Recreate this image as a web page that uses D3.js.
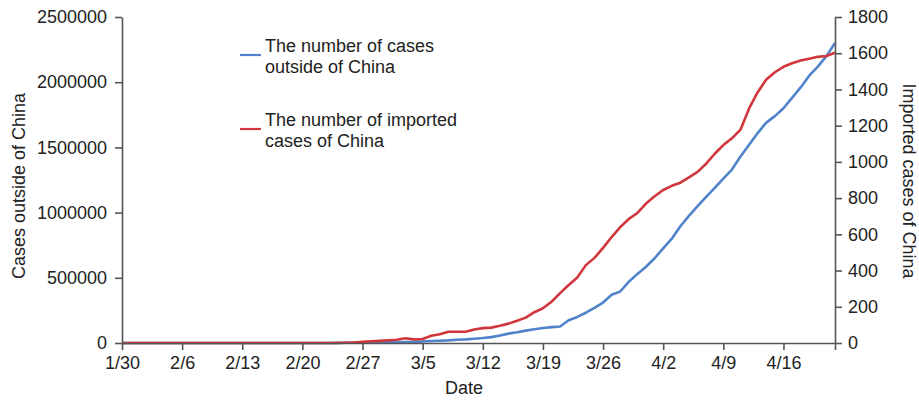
<!DOCTYPE html>
<html>
<head>
<meta charset="utf-8">
<script src="https://cdn.jsdelivr.net/npm/d3@7/dist/d3.min.js"></script>
<style>
  html, body { margin: 0; padding: 0; background: #fff; }
  svg text { font-family: "Liberation Sans", Arial, Helvetica, sans-serif; fill: #222; }
</style>
</head>
<body>
<svg id="chart" width="919" height="400"></svg>
<script>
// ---- data (day index 0 = 1/30, 83 = 4/22) ----
const days = d3.range(0, 84);
const tickDays = [0, 7, 14, 21, 28, 35, 42, 49, 56, 63, 70, 77, 83];
const tickLabels = ["1/30", "2/6", "2/13", "2/20", "2/27", "3/5", "3/12", "3/19", "3/26", "4/2", "4/9", "4/16", ""];
const leftTicks = [0, 500000, 1000000, 1500000, 2000000, 2500000];
const rightTicks = [0, 200, 400, 600, 800, 1000, 1200, 1400, 1600, 1800];

// cases outside of China (left axis)
const outsideCases = [
  0, 0, 0, 0, 0, 0, 0, 0, 0, 0,
  0, 0, 0, 0, 0, 0, 0, 0, 0, 0,
  0, 0, 0, 0, 0, 1000, 1500, 2000, 2500, 3000,
  4000, 5000, 6000, 7000, 9000, 12000, 15000, 17000, 20000, 25000,
  28000, 33000, 38000, 45000, 58000, 72000, 82000, 95000, 105000, 115000,
  122000, 127000, 175000, 200000, 232000, 270000, 310000, 370000, 395000, 470000,
  530000, 585000, 650000, 726000, 800000, 895000, 975000, 1050000, 1120000, 1190000,
  1260000, 1330000, 1430000, 1520000, 1610000, 1690000, 1740000, 1800000, 1880000, 1960000,
  2050000, 2120000, 2200000, 2300000
];
// imported cases of China (right axis)
const importedCases = [
  0, 0, 0, 0, 0, 0, 0, 0, 0, 0,
  0, 0, 0, 0, 0, 0, 0, 0, 0, 0,
  0, 0, 0, 0, 0, 0, 1, 3, 6, 10,
  12, 15, 18, 26, 20, 22, 40, 48, 62, 62,
  62, 75, 82, 85, 95, 107, 123, 140, 170, 192,
  228, 275, 320, 362, 430, 470, 525, 585, 640, 685,
  718, 770, 810, 845, 868, 885, 915, 945, 990, 1045,
  1093, 1130, 1178, 1295, 1385, 1455, 1495, 1525, 1545, 1560,
  1570, 1580, 1585, 1603
];

const legendItems = [
  { lines: ["The number of cases", "outside of China"], color: "#5183cb" },
  { lines: ["The number of imported", "cases of China"], color: "#d0363b" }
];

// ---- layout ----
const svg = d3.select("#chart");
const x0 = 122, x1 = 835, yTop = 17, yBot = 343;
const axisColor = "#555";

const x = d3.scaleLinear().domain([0, 83]).range([x0, x1]);
const yL = d3.scaleLinear().domain([0, 2500000]).range([yBot, yTop]);
const yR = d3.scaleLinear().domain([0, 1800]).range([yBot, yTop]);

function styleAxis(g) {
  g.selectAll("path.domain").attr("stroke", axisColor).attr("stroke-width", 1.6);
  g.selectAll(".tick line").attr("stroke", axisColor).attr("stroke-width", 1.6);
  g.selectAll(".tick text").attr("font-size", 18).attr("fill", "#222")
    .attr("font-family", "'Liberation Sans', Arial, sans-serif");
}

// lines
const lineL = d3.line().x((d, i) => x(days[i])).y(d => yL(d));
const lineR = d3.line().x((d, i) => x(days[i])).y(d => yR(d));

svg.append("path").datum(outsideCases)
  .attr("d", lineL).attr("fill", "none")
  .attr("stroke", legendItems[0].color).attr("stroke-width", 2.6)
  .attr("stroke-linejoin", "round");
svg.append("path").datum(importedCases)
  .attr("d", lineR).attr("fill", "none")
  .attr("stroke", legendItems[1].color).attr("stroke-width", 2.6)
  .attr("stroke-linejoin", "round");

// axes
const gx = svg.append("g").attr("transform", `translate(0,${yBot})`)
  .call(d3.axisBottom(x).tickValues(tickDays)
    .tickFormat((d, i) => tickLabels[i]).tickSize(7).tickSizeOuter(0).tickPadding(6));
styleAxis(gx);

const gl = svg.append("g").attr("transform", `translate(${x0},0)`)
  .call(d3.axisLeft(yL).tickValues(leftTicks).tickFormat(d3.format("d"))
    .tickSize(7).tickSizeOuter(0).tickPadding(8));
styleAxis(gl);

const gr = svg.append("g").attr("transform", `translate(${x1},0)`)
  .call(d3.axisRight(yR).tickValues(rightTicks).tickFormat(d3.format("d"))
    .tickSize(7).tickSizeOuter(0).tickPadding(6));
styleAxis(gr);

// axis titles
svg.append("text").attr("transform", `translate(25,186) rotate(-90)`)
  .attr("text-anchor", "middle").attr("font-size", 18).text("Cases outside of China");
svg.append("text").attr("transform", `translate(903,181) rotate(90)`)
  .attr("text-anchor", "middle").attr("font-size", 18).text("Imported cases of China");
svg.append("text").attr("x", 464).attr("y", 394)
  .attr("text-anchor", "middle").attr("font-size", 18).text("Date");

// legend
const legendY = [52, 126];
legendItems.forEach((item, k) => {
  const g = svg.append("g");
  g.append("line").attr("x1", 240).attr("x2", 261)
    .attr("y1", legendY[k] + 3).attr("y2", legendY[k] + 3)
    .attr("stroke", item.color).attr("stroke-width", 2.2);
  item.lines.forEach((t, j) => {
    g.append("text").attr("x", 265).attr("y", legendY[k] + j * 21)
      .attr("font-size", 18).text(t);
  });
});
</script>
</body>
</html>
